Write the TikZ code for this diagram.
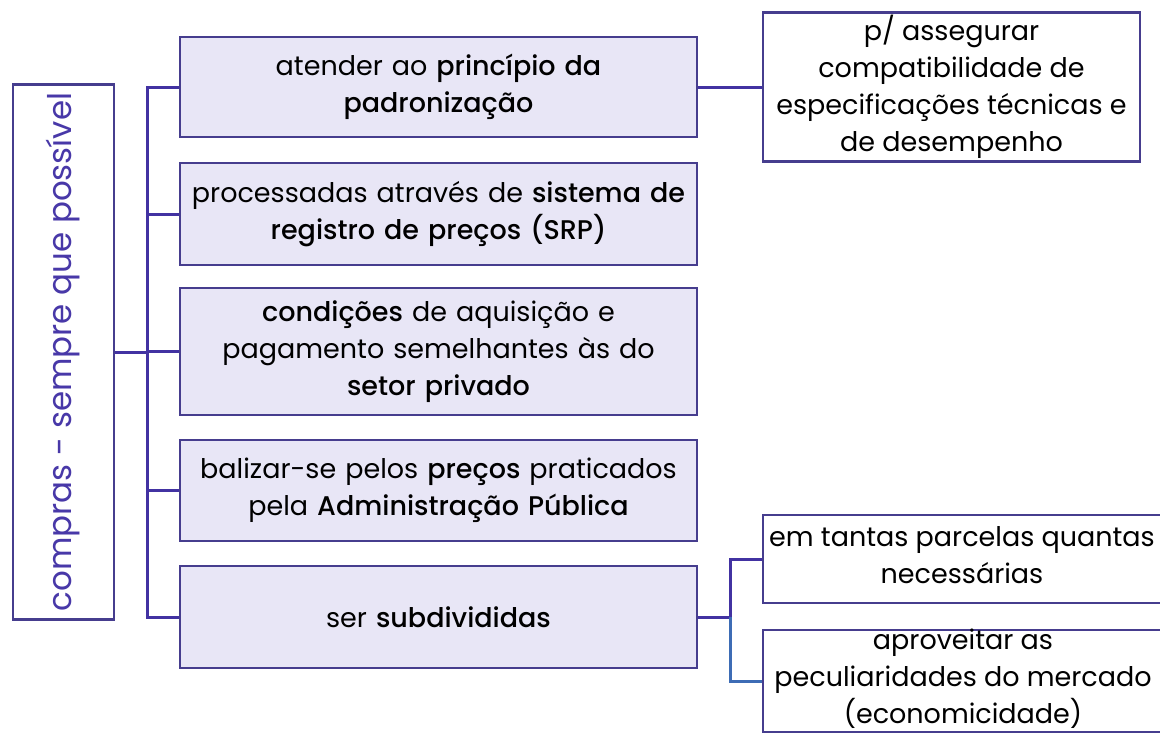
\documentclass[tikz,border=0pt]{standalone}
\usepackage{fontspec}
\setmainfont{Poppins}[BoldFont={Poppins Medium}]
\usetikzlibrary{positioning}
\definecolor{linkpurple}{HTML}{4232A2}
\definecolor{linkblue}{HTML}{3D6CB5}
\definecolor{boxedge}{HTML}{463D8E}
\definecolor{boxfill}{HTML}{E8E6F6}
\definecolor{rootpurple}{HTML}{4838A8}

\begin{document}
\begin{tikzpicture}[x=1pt,y=-1pt]
\useasboundingbox (0,0) rectangle (1160,734);
\tikzset{link/.style={draw=linkpurple, line width=3pt}}
\tikzset{bluelink/.style={draw=linkblue, line width=3pt}}
\tikzset{rootbox/.style={draw=boxedge, line width=2.5pt, fill=white, rotate=90, minimum width=535pt, minimum height=101pt, text=rootpurple, font=\fontsize{32.5}{38}\selectfont}}
\tikzset{midbox/.style={draw=boxedge, line width=2.5pt, fill=boxfill, text width=505pt, inner xsep=6pt, inner ysep=0pt, align=center, font=\fontsize{27}{37}\selectfont}}
\tikzset{sidebox/.style={draw=boxedge, line width=2.5pt, fill=white, inner sep=0pt}}
\tikzset{sidetext/.style={align=center, inner sep=0pt, font=\fontsize{27}{37}\selectfont}}

% root
\node[rootbox] (root) at (63.5,352) {compras - sempre que possível};

% middle column
\node[midbox, minimum height=100pt] (padr) at (438.5,87)    {atender ao \textbf{princípio da}\\ \textbf{padronização}};
\node[midbox, minimum height=102pt] (srp)  at (438.5,214)   {processadas através de \textbf{sistema de}\\ \textbf{registro de preços (SRP)}};
\node[midbox, minimum height=127pt] (cond) at (438.5,351.5) {\textbf{condições} de aquisição e\\ pagamento semelhantes às do\\ \textbf{setor privado}};
\node[midbox, minimum height=101pt] (prec) at (438.5,490.5) {balizar-se pelos \textbf{preços} praticados\\ pela \textbf{Administração Pública}};
\node[midbox, minimum height=102pt] (subd) at (438.5,617)   {ser \textbf{subdivididas}};

% right column
\node[sidebox, minimum width=377pt, minimum height=149pt] (compat) at (951.5,87) {};
\node[sidetext] (compattxt) at (compat.center) {p/ assegurar\\ compatibilidade de\\ especificações técnicas e\\ de desempenho};
\node[sidebox, minimum width=402pt, minimum height=88pt] (parc) at (964,559) {};
\node[sidetext] (parctxt) at (962,555) {em tantas parcelas quantas\\ necessárias};
\node[sidebox, minimum width=402pt, minimum height=102pt] (merc) at (964,681) {};
\node[sidetext] (merctxt) at (963,679) {aproveitar as\\ peculiaridades do mercado\\ (economicidade)};

% connectors
\coordinate (spine) at (147,352);
\coordinate (fork) at (730,617);
\draw[link] (root.south) -- (spine);
\draw[link] (padr.west) -| (spine) |- (subd.west);
\foreach \n in {srp,cond,prec}
  \draw[link] (\n.west) -- (\n.west -| spine);
\draw[link] (padr.east) -- (compat.west);
\draw[link] (subd.east) -- (fork) |- (parc.west);
\draw[bluelink] (fork) |- (merc.west);
\end{tikzpicture}
\end{document}
